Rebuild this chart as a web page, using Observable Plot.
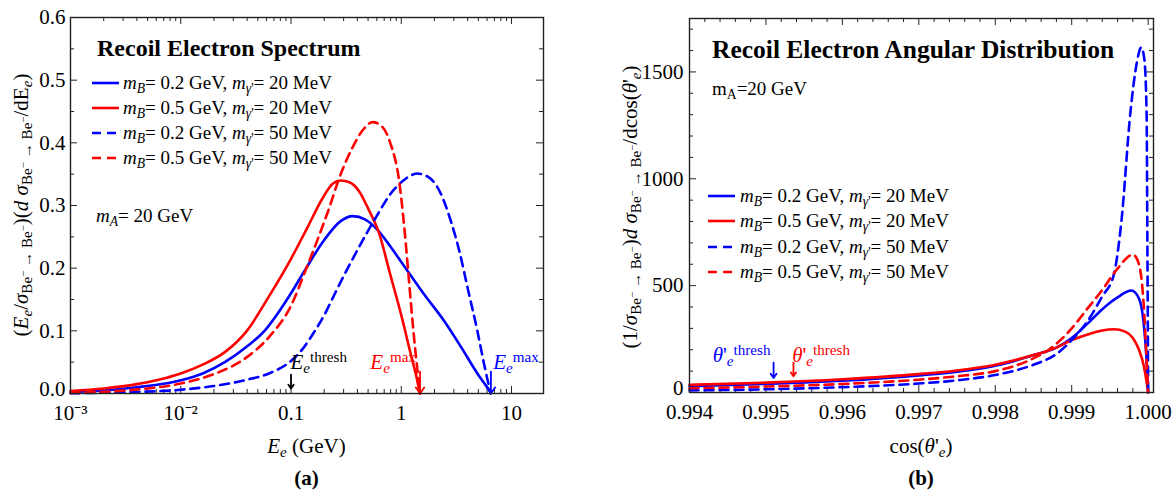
<!DOCTYPE html>
<html><head><meta charset="utf-8">
<script src="https://cdn.jsdelivr.net/npm/d3@7"></script>
<script src="https://cdn.jsdelivr.net/npm/@observablehq/plot@0.6"></script>
<style>
html,body{margin:0;padding:0;background:#fff;}
#wrap{position:relative;width:1175px;height:493px;overflow:hidden;font-family:"Liberation Serif","Times New Roman",serif;color:#000;}
.abs{position:absolute;white-space:nowrap;line-height:0;}
.abs sub{font-size:0.72em;vertical-align:-0.28em;line-height:0;}
.abs sup{font-size:0.72em;vertical-align:0.45em;line-height:0;}
svg.plot{position:absolute;top:0;}
svg.plot text{font-family:"Liberation Serif","Times New Roman",serif !important;}
</style></head>
<body><div id="wrap"></div>
<script>
// ---------------- Panel (a): recoil electron spectrum ----------------
const energyBlue20 = [0.001,0.00316,0.01,0.0158,0.0251,0.0398,0.0575,0.0794,0.1,0.135,0.2,0.282,0.363,0.468,0.603,0.794,1.0,1.585,2.512,3.548,4.898,6.457];
const specBlue20   = [0.002,0.008,0.021,0.032,0.05,0.075,0.1,0.133,0.16,0.198,0.245,0.275,0.283,0.278,0.262,0.235,0.21,0.16,0.113,0.072,0.032,0.003];
const energyRed20  = [0.001,0.002,0.004,0.0063,0.01,0.0158,0.0251,0.0398,0.0631,0.1,0.141,0.191,0.24,0.282,0.339,0.417,0.501,0.631,0.794,1.0,1.23,1.38,1.47];
const specRed20    = [0.004,0.008,0.015,0.022,0.032,0.046,0.066,0.1,0.155,0.215,0.265,0.31,0.335,0.34,0.337,0.322,0.295,0.255,0.19,0.125,0.06,0.025,0.0];
const energyBlue50 = [0.001,0.00316,0.01,0.02,0.0398,0.0631,0.1,0.126,0.158,0.2,0.251,0.316,0.398,0.501,0.631,0.794,1.0,1.259,1.39,1.778,2.239,2.818,3.388,3.981,4.898,5.623,6.457];
const specBlue50   = [0.0005,0.002,0.006,0.012,0.022,0.032,0.052,0.07,0.095,0.125,0.16,0.195,0.228,0.26,0.29,0.318,0.337,0.349,0.351,0.345,0.322,0.275,0.225,0.17,0.1,0.048,0.0];
const energyRed50  = [0.001,0.00316,0.01,0.02,0.0398,0.0631,0.1,0.138,0.178,0.224,0.269,0.355,0.447,0.55,0.676,0.794,0.955,1.072,1.175,1.288,1.396,1.479];
const specRed50    = [0.001,0.005,0.016,0.031,0.058,0.09,0.14,0.2,0.25,0.298,0.34,0.39,0.42,0.433,0.425,0.4,0.34,0.26,0.18,0.1,0.04,0.0];

const xTicksA      = [0.001, 0.01, 0.1, 1, 10];
const xTickLabelsA = ["10⁻³", "10⁻²", "0.1", "1", "10"];
const yTicksA      = [0, 0.1, 0.2, 0.3, 0.4, 0.5, 0.6];

// arrows in panel (a): threshold (black), E_max for m_B=0.5 (red), E_max for m_B=0.2 (blue)
const arrowAX      = [0.1, 1.48, 6.5];
const arrowATop    = [0.03, 0.035, 0.035];
const arrowABottom = [0.008, 0.0, 0.0];
const arrowAColor  = ["#000000", "#ff0000", "#0000ff"];

// ---------------- Panel (b): recoil electron angular distribution ----------------
const cosBlue20 = [0.994,0.995,0.996,0.997,0.9975,0.998,0.9985,0.9988,0.999,0.9992,0.9994,0.9996,0.99978,0.99988,0.99994,0.99998,1.0];
const angBlue20 = [30,40,55,80,97,125,175,210,255,320,390,445,477,440,330,150,0];
const cosRed20  = [0.994,0.995,0.996,0.997,0.9975,0.998,0.9985,0.9988,0.999,0.9992,0.9994,0.99955,0.9997,0.9998,0.99988,0.99994,0.99998,1.0];
const angRed20  = [36,46,62,86,103,130,175,210,245,270,290,296,285,255,200,130,50,0];
const cosBlue50 = [0.994,0.995,0.996,0.997,0.9975,0.998,0.9985,0.9988,0.999,0.9992,0.9994,0.99955,0.99965,0.99977,0.99985,0.99991,0.99995,0.99998,0.99999,1.0];
const angBlue50 = [10,15,25,42,57,82,130,180,245,330,450,550,800,1318,1540,1615,1560,1300,700,0];
const cosRed50  = [0.994,0.995,0.996,0.997,0.9975,0.998,0.9985,0.9987,0.999,0.9992,0.9994,0.9996,0.9998,0.99988,0.99994,0.99998,1.0];
const angRed50  = [20,28,40,60,76,100,160,200,300,390,480,580,645,600,420,150,0];

const xTicksB      = [0.994, 0.995, 0.996, 0.997, 0.998, 0.999, 1.0];
const xTickLabelsB = ["0.994", "0.995", "0.996", "0.997", "0.998", "0.999", "1.000"];
const yTicksB      = [0, 500, 1000, 1500];

const arrowBX      = [0.9951, 0.99536];
const arrowBTop    = [140, 140];
const arrowBBottom = [68, 76];
const arrowBColor  = ["#0000ff", "#ff0000"];

// legend entries (shared by both panels)
const legendLabels = [
  "<i>m</i><sub><i>B</i></sub>= 0.2 GeV, <i>m</i><sub><i>γ</i>'</sub>= 20 MeV",
  "<i>m</i><sub><i>B</i></sub>= 0.5 GeV, <i>m</i><sub><i>γ</i>'</sub>= 20 MeV",
  "<i>m</i><sub><i>B</i></sub>= 0.2 GeV, <i>m</i><sub><i>γ</i>'</sub>= 50 MeV",
  "<i>m</i><sub><i>B</i></sub>= 0.5 GeV, <i>m</i><sub><i>γ</i>'</sub>= 50 MeV"
];
const legendColors = ["#0000ff", "#ff0000", "#0000ff", "#ff0000"];
const legendDashed = [false, false, true, true];

// ---------------- helpers ----------------
const FONT = '"Liberation Serif","Times New Roman",serif';
const DASH = "9,6";
const LW = 2.6;
const wrap = document.getElementById("wrap");

function pts(xs, ys) { return xs.map((x, i) => ({x, y: ys[i]})); }

function frameTicks(xMajor, xMinor, yMajor, yMinor, fw, fh) {
  const M = 7, m = 4, st = {stroke: "#222", strokeWidth: 1};
  return [
    Plot.tickX(xMajor, {x: d => d, insetTop: fh - M, ...st}),
    Plot.tickX(xMajor, {x: d => d, insetBottom: fh - M, ...st}),
    Plot.tickX(xMinor, {x: d => d, insetTop: fh - m, ...st}),
    Plot.tickX(xMinor, {x: d => d, insetBottom: fh - m, ...st}),
    Plot.tickY(yMajor, {y: d => d, insetRight: fw - M, ...st}),
    Plot.tickY(yMajor, {y: d => d, insetLeft: fw - M, ...st}),
    Plot.tickY(yMinor, {y: d => d, insetRight: fw - m, ...st}),
    Plot.tickY(yMinor, {y: d => d, insetLeft: fw - m, ...st})
  ];
}

// y tick labels: the zero label is lifted a little so it clears the first x label
function yAxes(ticks, fmt, pad) {
  return [
    Plot.axisY({ticks: ticks.filter(d => d !== 0), tickFormat: fmt, tickSize: 0, tickPadding: pad, label: null, fontSize: 21}),
    Plot.axisY({ticks: ticks.filter(d => d === 0), tickFormat: fmt, tickSize: 0, tickPadding: pad, label: null, fontSize: 21, dy: -4})
  ];
}

function seriesMarks(sets) {
  return sets.map(s => Plot.line(pts(s[0], s[1]), {
    x: "x", y: "y", stroke: s[2], strokeWidth: LW,
    strokeDasharray: s[3] ? DASH : null, curve: "monotone-x"
  }));
}

function arrowMarks(X, Y1, Y2, C) {
  return X.map((x, i) => Plot.arrow([i], {
    x1: () => x, x2: () => x, y1: () => Y1[i], y2: () => Y2[i],
    stroke: C[i], strokeWidth: 1.8, headLength: 9, headAngle: 70
  }));
}

function scalePx(plot, ch, v) {
  const s = plot.scale(ch);
  if (s && typeof s.apply === "function") return s.apply(v);
  const sc = (s.type === "log" ? d3.scaleLog() : d3.scaleLinear()).domain(s.domain).range(s.range);
  return sc(v);
}

function addText(html, x, y, o = {}) {
  const d = document.createElement("div");
  d.className = "abs";
  d.innerHTML = html;
  d.style.left = x + "px";
  d.style.top = y + "px";
  d.style.fontSize = (o.size || 18) + "px";
  if (o.bold) d.style.fontWeight = "bold";
  if (o.color) d.style.color = o.color;
  if (o.rotate) { d.style.transformOrigin = "0 0"; d.style.transform = "rotate(-90deg) translateX(-50%)"; }
  else if (o.anchor === "middle") d.style.transform = "translateX(-50%)";
  wrap.appendChild(d);
  return d;
}

function addSample(x1, x2, y, color, dashed) {
  const ns = "http://www.w3.org/2000/svg";
  const s = document.createElementNS(ns, "svg");
  s.setAttribute("width", x2 - x1); s.setAttribute("height", 8);
  s.style.position = "absolute"; s.style.left = x1 + "px"; s.style.top = (y - 4) + "px";
  const l = document.createElementNS(ns, "line");
  l.setAttribute("x1", 0); l.setAttribute("x2", x2 - x1); l.setAttribute("y1", 4); l.setAttribute("y2", 4);
  l.setAttribute("stroke", color); l.setAttribute("stroke-width", LW);
  if (dashed) l.setAttribute("stroke-dasharray", DASH);
  s.appendChild(l);
  wrap.appendChild(s);
}

// ---------------- Panel (a) ----------------
const A = {w: 580, h: 493, l: 70, r: 37, t: 17, b: 100};
const xMinorA = [];
[0.001, 0.01, 0.1, 1, 10].forEach(dec => { for (let k = 2; k <= 9; k++) { const v = k * dec; if (v < 19.5) xMinorA.push(v); } });
const yMinorA = [0.05, 0.15, 0.25, 0.35, 0.45, 0.55];

const plotA = Plot.plot({
  width: A.w, height: A.h, marginLeft: A.l, marginRight: A.r, marginTop: A.t, marginBottom: A.b,
  style: {fontFamily: FONT, fontSize: "21px", color: "#000", background: "transparent", overflow: "visible"},
  x: {type: "log", domain: [1e-3, 19.5]},
  y: {domain: [0, 0.6]},
  marks: [
    ...frameTicks(xTicksA, xMinorA, yTicksA, yMinorA, A.w - A.l - A.r, A.h - A.t - A.b),
    Plot.axisX({ticks: xTicksA, tickFormat: d => xTickLabelsA[xTicksA.indexOf(d)], tickSize: 0, tickPadding: 12, label: null, fontSize: 21}),
    ...yAxes(yTicksA, d3.format(".1f"), 5),
    ...seriesMarks([
      [energyBlue20, specBlue20, "#0000ff", false],
      [energyRed20, specRed20, "#ff0000", false],
      [energyBlue50, specBlue50, "#0000ff", true],
      [energyRed50, specRed50, "#ff0000", true]
    ]),
    ...arrowMarks(arrowAX, arrowATop, arrowABottom, arrowAColor),
    Plot.frame({stroke: "#222", strokeWidth: 1.4})
  ]
});
plotA.classList.add("plot");
plotA.style.left = "0px";
wrap.appendChild(plotA);

// ---------------- Panel (b) ----------------
const B = {x0: 580, w: 595, h: 493, l: 109, r: 22, t: 18, b: 101};
const xMinorB = [];
for (let i = 0; i < 30; i++) { const v = +(0.994 + i * 0.0002).toFixed(4); if (i % 5 !== 0) xMinorB.push(v); }
const yMinorB = [];
for (let v = 100; v <= 1700; v += 100) if (v % 500 !== 0) yMinorB.push(v);

const plotB = Plot.plot({
  width: B.w, height: B.h, marginLeft: B.l, marginRight: B.r, marginTop: B.t, marginBottom: B.b,
  style: {fontFamily: FONT, fontSize: "21px", color: "#000", background: "transparent", overflow: "visible"},
  x: {domain: [0.994, 1.00007]},
  y: {domain: [0, 1750]},
  marks: [
    ...frameTicks(xTicksB, xMinorB, yTicksB, yMinorB, B.w - B.l - B.r, B.h - B.t - B.b),
    Plot.axisX({ticks: xTicksB, tickFormat: d => xTickLabelsB[xTicksB.indexOf(d)], tickSize: 0, tickPadding: 12, label: null, fontSize: 21}),
    ...yAxes(yTicksB, d => String(d), 6),
    ...seriesMarks([
      [cosBlue20, angBlue20, "#0000ff", false],
      [cosRed20, angRed20, "#ff0000", false],
      [cosBlue50, angBlue50, "#0000ff", true],
      [cosRed50, angRed50, "#ff0000", true]
    ]),
    ...arrowMarks(arrowBX, arrowBTop, arrowBBottom, arrowBColor),
    Plot.frame({stroke: "#222", strokeWidth: 1.4})
  ]
});
plotB.classList.add("plot");
plotB.style.left = B.x0 + "px";
wrap.appendChild(plotB);

// ---------------- Text overlays ----------------
const sigma = "<i>σ</i><sub>Be<sup>−</sup> → Be<sup>−</sup></sub>";
// panel (a)
addText("Recoil Electron Spectrum", 97, 48, {size: 24, bold: true});
legendLabels.forEach((t, i) => {
  const y = 83 + i * 25;
  addSample(92, 119, y, legendColors[i], legendDashed[i]);
  addText(t, 123, y, {size: 19});
});
addText("<i>m</i><sub><i>A</i></sub>= 20 GeV", 96, 216, {size: 19});
addText(`(<i>E</i><sub><i>e</i></sub>/${sigma})(<i>d σ</i><sub>Be<sup>−</sup> → Be<sup>−</sup></sub>/dE<sub><i>e</i></sub>)`, 21, 205, {size: 21, rotate: true});
addText("<i>E</i><sub><i>e</i></sub> (GeV)", (A.l + A.w - A.r) / 2, 446, {size: 21, anchor: "middle"});
addText("(a)", (A.l + A.w - A.r) / 2, 478, {size: 21, bold: true, anchor: "middle"});

const annY = 357;
addText(`<i>E</i><sub><i>e</i></sub><sup>thresh</sup>`, scalePx(plotA, "x", 0.1), annY, {size: 21});
addText(`<i>E</i><sub><i>e</i></sub><sup>max</sup>`, scalePx(plotA, "x", 0.53), annY, {size: 21, color: "#ff0000"});
addText(`<i>E</i><sub><i>e</i></sub><sup>max</sup>`, scalePx(plotA, "x", 6.9), annY, {size: 21, color: "#0000ff"});

// panel (b)
addText("Recoil Electron Angular Distribution", 712, 50, {size: 25.5, bold: true});
addText("m<sub>A</sub>=20 GeV", 712, 89, {size: 19});
legendLabels.forEach((t, i) => {
  const y = 196 + i * 25.3;
  addSample(708, 735, y, legendColors[i], legendDashed[i]);
  addText(t, 740, y, {size: 19});
});
addText(`(1/${sigma})<i>d σ</i><sub>Be<sup>−</sup> → Be<sup>−</sup></sub>/dcos(<i>θ</i>'<sub><i>e</i></sub>)`, 630, 207, {size: 21, rotate: true});
const cxB = B.x0 + (B.l + B.w - B.r) / 2;
addText("cos(<i>θ</i>'<sub><i>e</i></sub>)", cxB, 446, {size: 21, anchor: "middle"});
addText("(b)", cxB, 478, {size: 21, bold: true, anchor: "middle"});
addText(`<i>θ</i>'<sub><i>e</i></sub><sup>thresh</sup>`, B.x0 + scalePx(plotB, "x", 0.99431), 350, {size: 21, color: "#0000ff"});
addText(`<i>θ</i>'<sub><i>e</i></sub><sup>thresh</sup>`, B.x0 + scalePx(plotB, "x", 0.99535), 350, {size: 21, color: "#ff0000"});
</script>
</body></html>
